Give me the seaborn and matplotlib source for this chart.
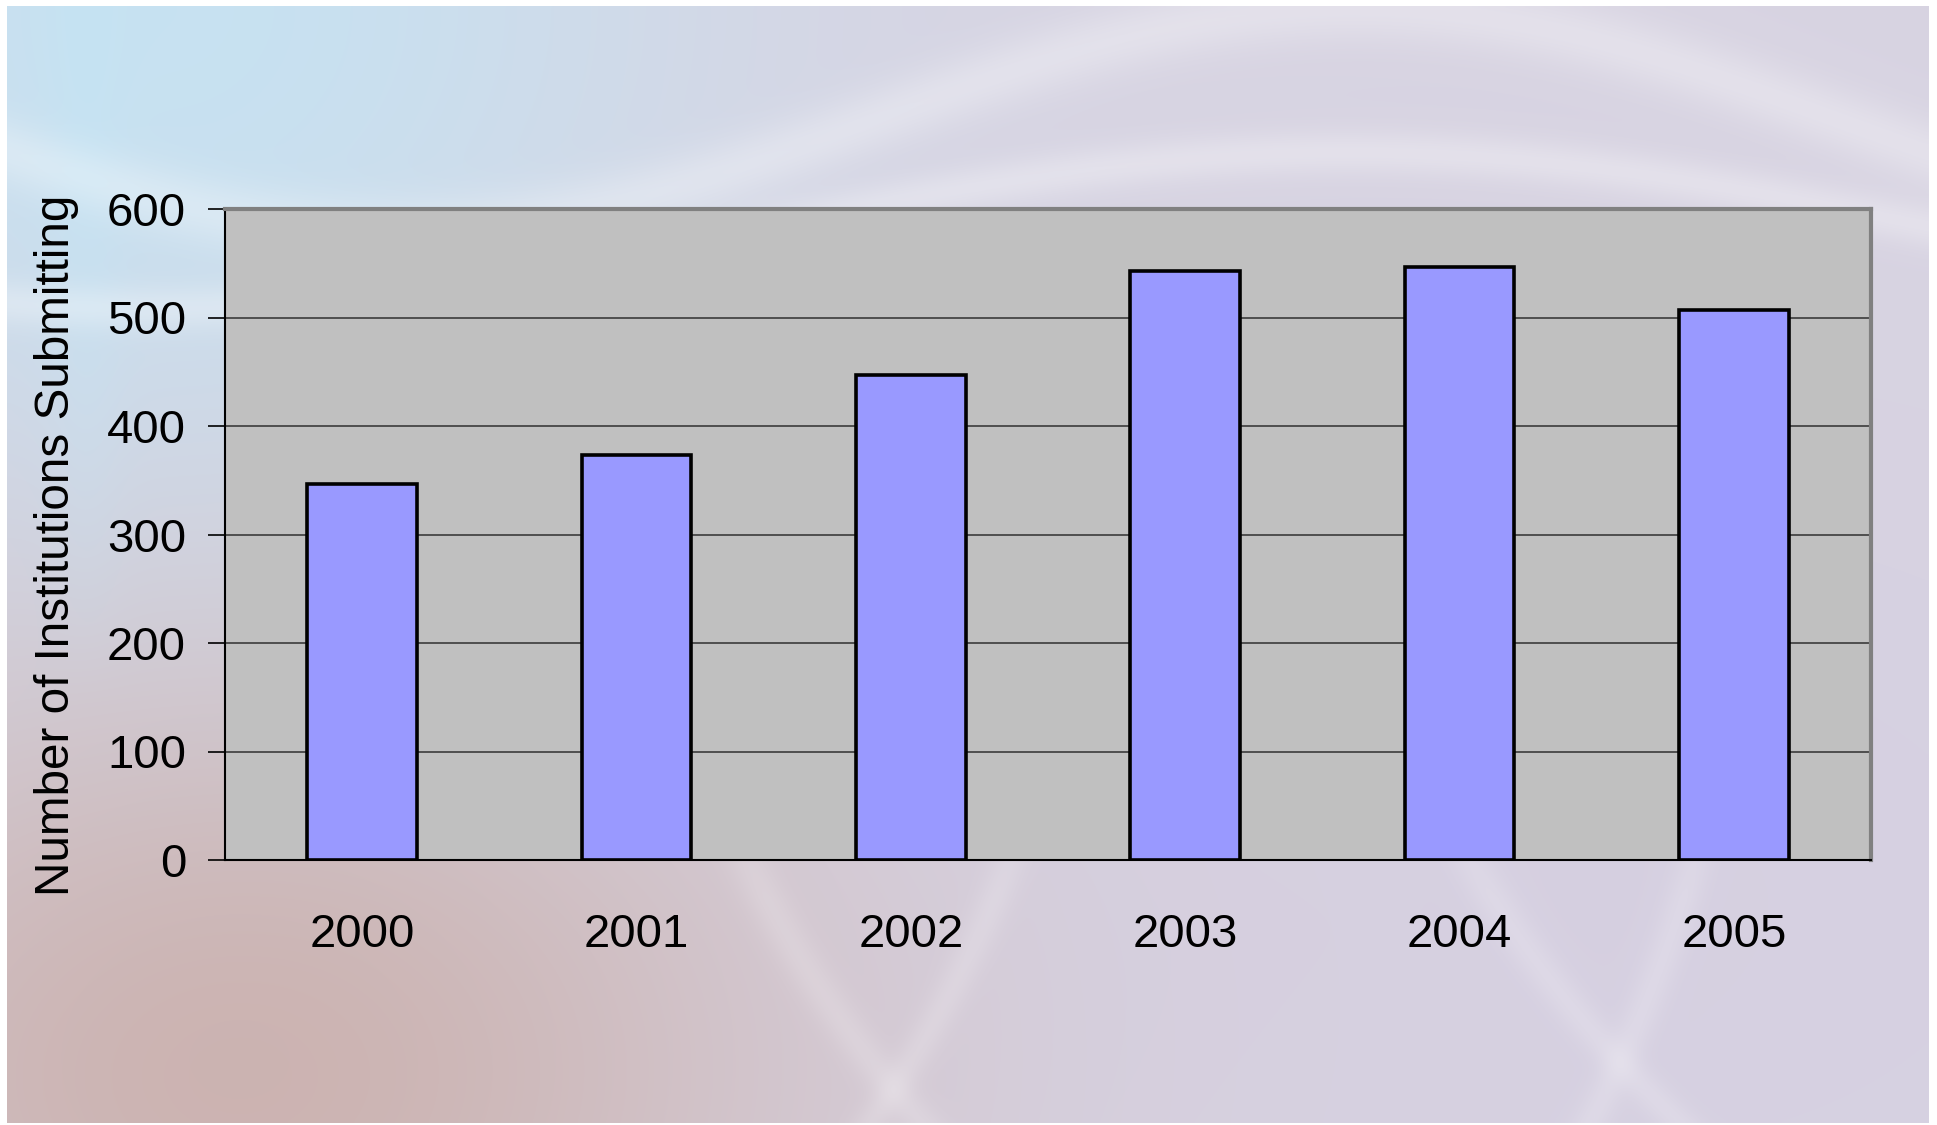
import numpy as np
import pandas as pd
import matplotlib
matplotlib.use("Agg")
import matplotlib.pyplot as plt
import seaborn as sns

# ---- data ----
years = ["2000", "2001", "2002", "2003", "2004", "2005"]
institutions = [347, 373, 447, 543, 547, 507]
y_ticks = [0, 100, 200, 300, 400, 500, 600]
y_label = "Number of Institutions Submitting"

df = pd.DataFrame({"year": years, "count": institutions})

sns.set_theme(style="white")
plt.rcParams["font.family"] = ["Liberation Sans", "DejaVu Sans"]

W, H = 1937, 1125
fig = plt.figure(figsize=(W / 100, H / 100), dpi=100)
fig.patch.set_facecolor("white")

# ---- soft background (decorative) ----
bg_ax = fig.add_axes([7 / W, 2 / H, (1928 - 7) / W, (1123 - 6) / H], zorder=-10)
bg_ax.set_axis_off()
nx, ny = 480, 280
u = np.linspace(0, 1, nx)[None, :]
v = np.linspace(0, 1, ny)[:, None]
base = np.array([216, 212, 226], float) / 255
img = np.ones((ny, nx, 3)) * base
cyan = np.array([196, 228, 244], float) / 255
orange = np.array([192, 146, 128], float) / 255
lav = np.array([212, 204, 224], float) / 255
w_c = np.exp(-((u - 0.08) / 0.28) ** 2 - ((v - 0.0) / 0.45) ** 2) * 0.85
w_c2 = np.exp(-((u - 0.04) / 0.02) ** 2) * np.clip(1 - v * 1.6, 0, 1) * 0.6
w_o = np.exp(-((u - 0.12) / 0.30) ** 2 - ((v - 0.95) / 0.40) ** 2) * 0.5
w_l = np.exp(-((u - 0.85) / 0.35) ** 2 - ((v - 0.8) / 0.4) ** 2) * 0.5
for w, c in ((w_l, lav), (w_o, orange), (w_c, cyan), (w_c2, cyan)):
    img = img * (1 - w[..., None]) + c * w[..., None]
# white smoky strands
white = np.ones(3)
strands = [
    (0.10, 0.10, 2.0, 0.3, 0.03),
    (0.20, 0.07, 1.6, 1.2, 0.02),
]
for base_v, amp, freq, ph, wid in strands:
    curve = base_v + amp * np.sin(freq * u * np.pi + ph)
    w = np.exp(-((v - curve) / wid) ** 2) * 0.3
    img = img * (1 - w[..., None]) + white * w[..., None]
for x0, slope, wid in ((0.35, 0.25, 0.012), (0.55, -0.2, 0.01), (0.72, 0.3, 0.012), (0.9, -0.15, 0.01)):
    curve = x0 + slope * (v - 0.5) ** 2 * 2
    w = np.exp(-((u - curve) / wid) ** 2) * 0.18 * np.clip((v - 0.6) * 5, 0, 1)
    img = img * (1 - w[..., None]) + white * w[..., None]
bg_ax.imshow(np.clip(img, 0, 1), aspect="auto", extent=[0, 1, 0, 1], interpolation="bilinear")

# ---- main chart ----
ax = fig.add_axes([225 / W, 1 - 860 / H, (1871 - 225) / W, (860 - 209) / H])
ax.set_facecolor("#C0C0C0")

sns.barplot(data=df, x="year", y="count", color="#9999FF", edgecolor="black",
            linewidth=2.6, width=0.4, saturation=1, ax=ax, zorder=3)

ax.set_xlim(-0.5, len(years) - 0.5)
ax.set_ylim(0, 600)
ax.set_yticks(y_ticks)
ax.set_yticklabels([str(t) for t in y_ticks])
ax.yaxis.grid(True, color="#303030", linewidth=1.1, zorder=1)
ax.set_axisbelow(True)

ax.set_xticks(np.arange(-0.5, len(years), 1.0), minor=True)
ax.tick_params(axis="x", which="major", length=0, pad=38, labelsize=34, colors="black")
ax.tick_params(axis="x", which="minor", length=11, width=1.2, direction="out", color="black")
ax.tick_params(axis="y", which="major", length=12, width=1.2, direction="out",
               pad=16, labelsize=34, colors="black", left=True)

for s in ("left", "bottom"):
    ax.spines[s].set_color("black")
    ax.spines[s].set_linewidth(1.5)
for s in ("top", "right"):
    ax.spines[s].set_color("#808080")
    ax.spines[s].set_linewidth(3)
    ax.spines[s].set_visible(True)

ax.set_xlabel("")
ax.set_ylabel(y_label, fontsize=34.3, color="black")
ax.yaxis.set_label_coords(-0.0887, 0.484)

fig.savefig("out.png", dpi=100, facecolor="white")
